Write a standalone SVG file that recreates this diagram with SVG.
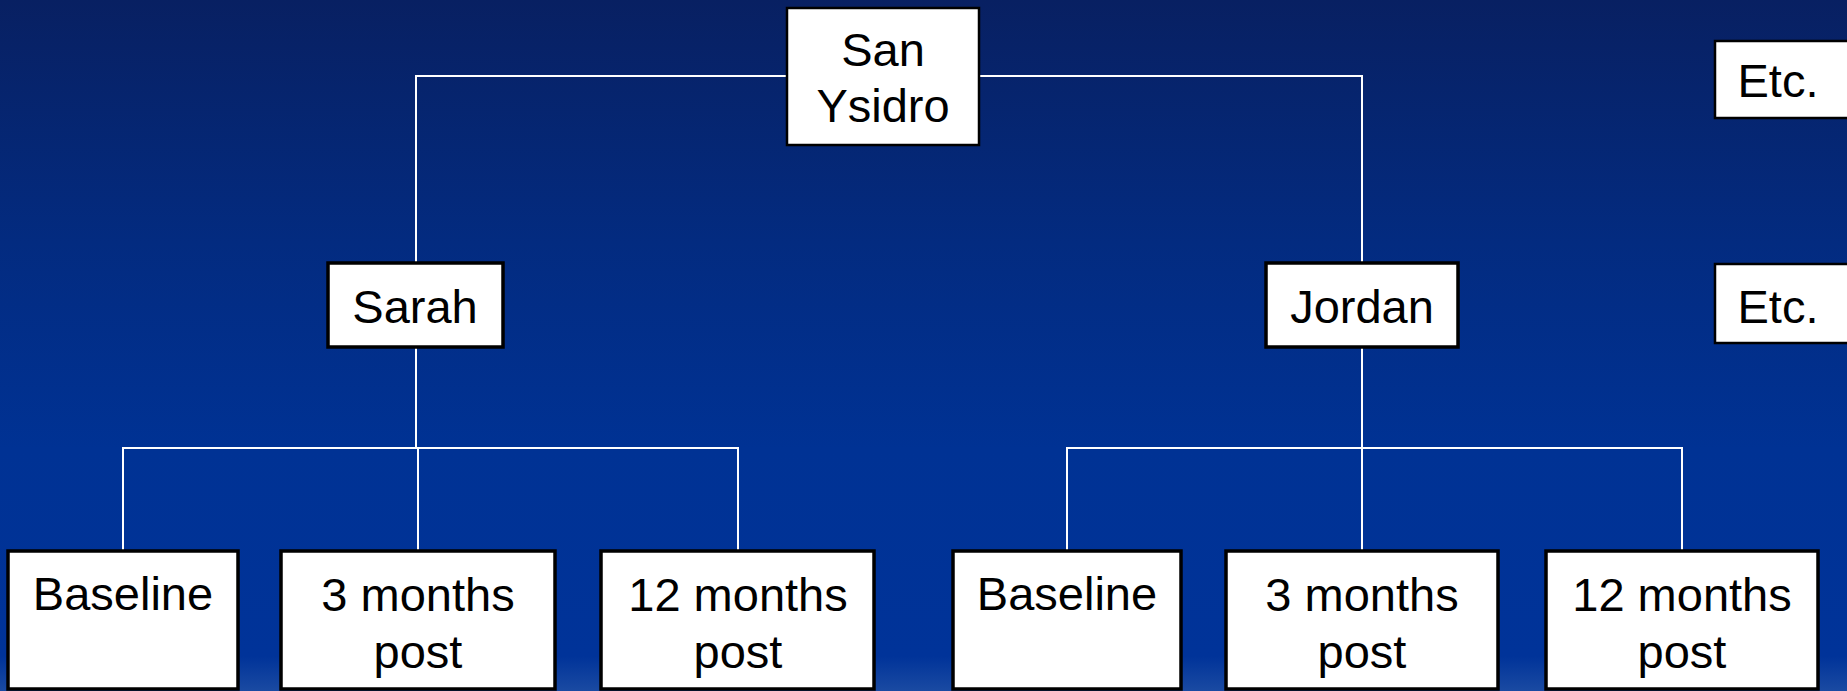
<svg xmlns="http://www.w3.org/2000/svg" width="1847" height="691" viewBox="0 0 1847 691">
  <defs>
    <linearGradient id="bg" x1="0" y1="0" x2="0" y2="1">
      <stop offset="0" stop-color="#082062"/>
      <stop offset="0.35" stop-color="#032b80"/>
      <stop offset="0.65" stop-color="#003294"/>
      <stop offset="0.95" stop-color="#003399"/>
      <stop offset="1" stop-color="#1a4aa2"/>
    </linearGradient>
  </defs>
  <style>
    .box { fill: #ffffff; stroke: #000000; stroke-width: 3.5; }
    .thin { stroke-width: 2.5; }
    .lbl { font-family: "Liberation Sans", Arial, sans-serif; font-size: 47px; fill: #000000; text-anchor: middle; }
    .conn { stroke: #ffffff; stroke-width: 2; fill: none; }
  </style>
  <rect x="0" y="0" width="1847" height="691" fill="url(#bg)"/>

  <g id="connectors">
    <polyline class="conn" points="416,263 416,76 1362,76 1362,263"/>
    <line class="conn" x1="416" y1="347" x2="416" y2="448"/>
    <polyline class="conn" points="123,551 123,448 738,448 738,551"/>
    <line class="conn" x1="418" y1="448" x2="418" y2="551"/>
    <line class="conn" x1="1362" y1="347" x2="1362" y2="448"/>
    <polyline class="conn" points="1067,551 1067,448 1682,448 1682,551"/>
    <line class="conn" x1="1362" y1="448" x2="1362" y2="551"/>
  </g>

  <g id="san-ysidro">
    <rect class="box thin" x="787" y="8" width="192" height="137"/>
    <text class="lbl" x="883" y="66">San</text>
    <text class="lbl" x="883" y="122">Ysidro</text>
  </g>

  <g id="etc-1">
    <rect class="box thin" x="1715" y="41" width="140" height="77"/>
    <text class="lbl" x="1778" y="97">Etc.</text>
  </g>

  <g id="sarah">
    <rect class="box" x="328" y="263" width="175" height="84"/>
    <text class="lbl" x="415" y="323">Sarah</text>
  </g>

  <g id="jordan">
    <rect class="box" x="1266" y="263" width="192" height="84"/>
    <text class="lbl" x="1362" y="323">Jordan</text>
  </g>

  <g id="etc-2">
    <rect class="box thin" x="1715" y="264" width="140" height="79"/>
    <text class="lbl" x="1778" y="323">Etc.</text>
  </g>

  <g id="sarah-baseline">
    <rect class="box" x="8" y="551" width="230" height="138"/>
    <text class="lbl" x="123" y="610">Baseline</text>
  </g>

  <g id="sarah-3m">
    <rect class="box" x="281" y="551" width="274" height="138"/>
    <text class="lbl" x="418" y="611">3 months</text>
    <text class="lbl" x="418" y="668">post</text>
  </g>

  <g id="sarah-12m">
    <rect class="box" x="601" y="551" width="273" height="138"/>
    <text class="lbl" x="738" y="611">12 months</text>
    <text class="lbl" x="738" y="668">post</text>
  </g>

  <g id="jordan-baseline">
    <rect class="box" x="953" y="551" width="228" height="138"/>
    <text class="lbl" x="1067" y="610">Baseline</text>
  </g>

  <g id="jordan-3m">
    <rect class="box" x="1226" y="551" width="272" height="138"/>
    <text class="lbl" x="1362" y="611">3 months</text>
    <text class="lbl" x="1362" y="668">post</text>
  </g>

  <g id="jordan-12m">
    <rect class="box" x="1546" y="551" width="272" height="138"/>
    <text class="lbl" x="1682" y="611">12 months</text>
    <text class="lbl" x="1682" y="668">post</text>
  </g>
</svg>
